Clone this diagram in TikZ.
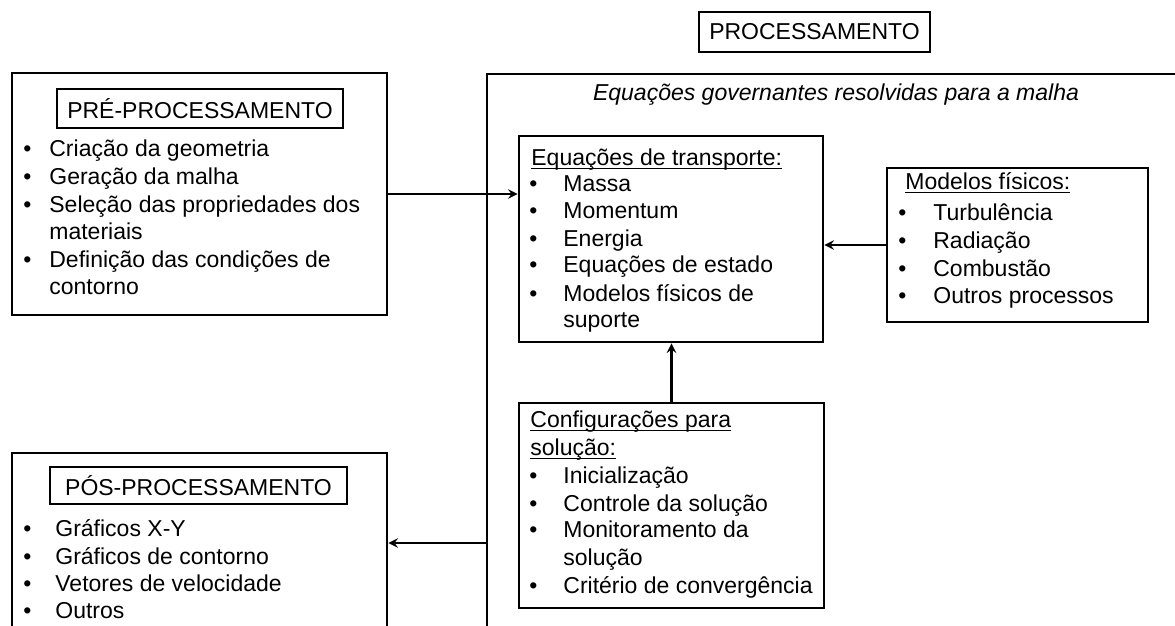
\documentclass[tikz,border=0pt]{standalone}
\usepackage{fontspec}
\setmainfont{Liberation Sans}
\usetikzlibrary{calc}
\def\boxnode[#1](#2)(#3,#4)(#5,#6)#7%Syntax: [style](name)(left,top)(right,bottom){text}
{ \node[#1,minimum width={(#5-#3)*0.5pt},minimum height={(#6-#4)*0.5pt}] (#2) at ({(#3+#5)/2},{(#4+#6)/2}) {#7}; }
\newcommand{\bul}[2]{\makebox[#1][l]{\textbullet}#2}
\newcommand{\ulin}[1]{\setbox0\hbox{#1}\rlap{\rule[-1.4pt]{\wd0}{0.6pt}}\box0}

\begin{document}
\begin{tikzpicture}[x=0.5pt,y=-0.5pt,font=\fontsize{11.5}{14}\selectfont,
	blockbox/.style={draw,line width=1.4pt,inner sep=0pt},
	titlebox/.style={draw,line width=1.2pt,inner sep=0pt},
	txt/.style={anchor=base west,inner sep=0pt},
	flow/.style={->,>=stealth,line width=1.1pt}]
	\useasboundingbox (0,0) rectangle (1175,626);
	\clip (0,0) rectangle (1175,626);

	%boxes
	\boxnode[titlebox](proc)(699,12)(930,52){PROCESSAMENTO}
	\boxnode[blockbox](pre)(12,73)(387,315){}
	\boxnode[titlebox](pretitle)(57,89)(343,128){PRÉ-PROCESSAMENTO}
	\boxnode[blockbox](post)(12,453)(387,720){}				%cut at the bottom
	\boxnode[titlebox](posttitle)(50,467)(347,504){PÓS-PROCESSAMENTO}
	\boxnode[blockbox](solver)(487,74)(1250,720){}			%cut at right and bottom
	\boxnode[blockbox](transp)(519,136)(823,342){}
	\boxnode[blockbox](models)(887,168)(1148,322){}
	\boxnode[blockbox](config)(519,403)(824,608){}

	%pre-processing
	\node[txt] (pre1) at (23,157) {\bul{13pt}{Criação da geometria}};
	\node[txt] (pre2) at (23,185) {\bul{13pt}{Geração da malha}};
	\node[txt] (pre3) at (23,213) {\bul{13pt}{Seleção das propriedades dos}};
	\node[txt] (pre4) at (49,240) {materiais};
	\node[txt] (pre5) at (23,268) {\bul{13pt}{Definição das condições de}};
	\node[txt] (pre6) at (49,295) {contorno};

	%post-processing
	\node[txt] (post1) at (23,536) {\bul{16pt}{Gráficos X-Y}};
	\node[txt] (post2) at (23,564) {\bul{16pt}{Gráficos de contorno}};
	\node[txt] (post3) at (23,591) {\bul{16pt}{Vetores de velocidade}};
	\node[txt] (post4) at (23,618) {\bul{16pt}{Outros}};

	%processing
	\node[anchor=base,inner sep=0pt] (govern) at (836,101) {\itshape Equações governantes resolvidas para a malha};
	%
	\node[txt] (transp0) at (531,166) {\ulin{Equações de transporte:}};
	\node[txt] (transp1) at (529,192) {\bul{17pt}{Massa}};
	\node[txt] (transp2) at (529,219) {\bul{17pt}{Momentum}};
	\node[txt] (transp3) at (529,247) {\bul{17pt}{Energia}};
	\node[txt] (transp4) at (529,273) {\bul{17pt}{Equações de estado}};
	\node[txt] (transp5) at (529,301) {\bul{17pt}{Modelos físicos de}};
	\node[txt] (transp6) at (563,328) {suporte};
	%
	\node[txt] (models0) at (905,190) {\ulin{Modelos físicos:}};
	\node[txt] (models1) at (898,221) {\bul{17.5pt}{Turbulência}};
	\node[txt] (models2) at (898,249) {\bul{17.5pt}{Radiação}};
	\node[txt] (models3) at (898,277) {\bul{17.5pt}{Combustão}};
	\node[txt] (models4) at (898,304) {\bul{17.5pt}{Outros processos}};
	%
	\node[txt] (config0) at (530,428) {\ulin{Configurações para}};
	\node[txt] (config1) at (530,456) {\ulin{solução:}};
	\node[txt] (config2) at (529,483) {\bul{17pt}{Inicialização}};
	\node[txt] (config3) at (529,511) {\bul{17pt}{Controle da solução}};
	\node[txt] (config4) at (529,538) {\bul{17pt}{Monitoramento da}};
	\node[txt] (config5) at (563,565) {solução};
	\node[txt] (config6) at (529,593) {\bul{17pt}{Critério de convergência}};

	%connectors
	\draw[flow] (pre.east) -- (pre.east -| transp.west);
	\draw[flow] (models.west) -- (models.west -| transp.east);
	\draw[flow] (config.north) -- (config.north |- transp.south);
	\coordinate (split) at (487,543);
	\draw[flow] (split) -- (split -| post.east);
\end{tikzpicture}
\end{document}
